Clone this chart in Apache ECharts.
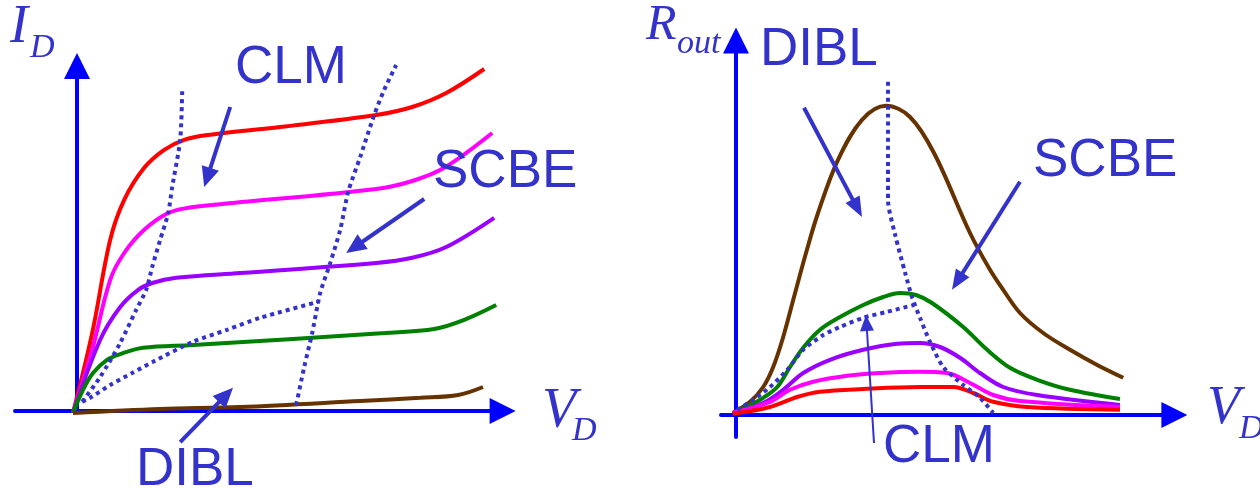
<!DOCTYPE html>
<html>
<head>
<meta charset="utf-8">
<script src="https://cdn.jsdelivr.net/npm/echarts/dist/echarts.min.js"></script>
<style>
  html, body { margin: 0; padding: 0; background: #fff; }
  #chart { width: 1260px; height: 496px; }
</style>
</head>
<body>
<div id="chart"></div>
<script>
// ---- left panel: I_D vs V_D, one curve per gate voltage ([V_D, I_D], arbitrary units) ----
const idRed     = [[-0.1,-0.05],[0.38,1.95],[0.83,4.28],[1.18,5.28],[1.68,6.08],[2.18,6.53],[2.68,6.78],[3.28,6.9],[5.08,7.1],[7.48,7.4],[8.38,7.6],[9.23,7.95],[10.18,8.55]];
const idMagenta = [[-0.1,-0.05],[0.38,1.53],[0.83,3.28],[1.18,3.95],[1.68,4.53],[2.28,4.95],[2.78,5.08],[3.68,5.18],[7.48,5.55],[8.38,5.75],[9.18,6.08],[10.38,6.95]];
const idPurple  = [[-0.1,-0.05],[0.58,1.78],[1.08,2.6],[1.53,3.03],[1.88,3.2],[2.48,3.33],[4.08,3.45],[7.48,3.7],[8.38,3.83],[9.23,4.1],[10.43,4.83]];
const idGreen   = [[-0.1,-0.05],[0.15,0.53],[0.4,0.95],[0.75,1.28],[1.1,1.43],[1.65,1.58],[2.9,1.65],[7.7,1.95],[8.93,2.05],[9.68,2.28],[10.48,2.65]];
const idBrown   = [[-0.1,-0.05],[2.08,0.05],[4.08,0.1],[7.08,0.25],[8.58,0.33],[9.53,0.4],[10.15,0.6]];
// region boundaries (dotted)
const idClmEdge  = [[0.13,0.23],[0.58,0.85],[1.08,1.7],[1.48,2.53],[1.73,3.03],[1.88,3.6],[2.08,4.28],[2.28,4.95],[2.38,5.6],[2.58,6.78],[2.63,8.0]];
const idDiblEdge = [[0.13,0.23],[0.33,0.33],[0.83,0.65],[1.38,0.95],[1.9,1.23],[2.9,1.73],[3.75,2.03],[4.58,2.33],[6.03,2.73]];
const idScbeEdge = [[5.48,0.15],[5.68,1.1],[5.88,1.95],[6.08,2.95],[6.33,3.7],[6.58,4.53],[6.78,5.48],[7.08,6.35],[7.43,7.4],[7.68,8.03],[7.98,8.65]];
// annotation arrows [tailX, tailY, tipX, tipY]
const idArrows = [[3.83,7.6,3.18,5.6],[8.68,5.3,6.73,3.95],[2.58,-0.78,3.9,0.58]];

// ---- right panel: R_out vs V_D ----
const roBrown   = [[-0.08,0.05],[0.35,0.33],[0.68,0.7],[0.93,1.2],[1.18,1.95],[1.45,2.95],[1.75,4.05],[2.05,5.05],[2.55,6.38],[3.15,7.38],[3.75,7.73],[4.35,7.45],[4.95,6.55],[5.85,4.55],[6.35,3.63],[6.68,3.13],[7.1,2.55],[7.68,2.05],[8.35,1.63],[9.03,1.25],[9.68,0.93]];
const roGreen   = [[-0.08,0.05],[0.35,0.25],[0.68,0.43],[1.03,0.7],[1.35,1.2],[1.68,1.68],[2.1,2.13],[2.6,2.45],[3.18,2.75],[3.68,2.95],[4.1,3.05],[4.5,3.0],[4.9,2.8],[5.68,2.2],[6.28,1.63],[6.85,1.18],[7.53,0.88],[8.35,0.63],[9.6,0.4]];
const roPurple  = [[-0.08,0.05],[0.68,0.3],[1.18,0.63],[1.68,1.05],[2.35,1.38],[3.18,1.63],[4.03,1.78],[4.6,1.8],[5.1,1.7],[5.6,1.43],[6.1,1.05],[6.68,0.7],[7.53,0.5],[9.6,0.25]];
const roMagenta = [[-0.08,0.05],[0.85,0.33],[1.35,0.63],[1.93,0.83],[2.78,0.98],[3.6,1.05],[4.6,1.08],[5.28,1.05],[5.85,0.8],[6.43,0.5],[7.1,0.35],[9.6,0.2]];
const roRed     = [[-0.08,0.03],[0.85,0.2],[1.53,0.45],[2.1,0.58],[3.18,0.65],[4.6,0.7],[5.43,0.7],[5.93,0.55],[6.43,0.33],[7.28,0.2],[9.6,0.13]];
const roClmEdge  = [[0.03,0.13],[0.43,0.38],[0.85,0.7],[1.28,1.13],[1.68,1.63],[2.18,2.0],[2.6,2.2],[3.18,2.43],[3.78,2.58],[4.45,2.75]];
const roDiblEdge = [[3.8,8.33],[3.8,5.38],[3.98,4.5],[4.23,3.55],[4.4,2.95],[4.6,2.43],[4.85,1.83],[5.18,1.2],[5.68,0.75],[6.1,0.43],[6.43,0.05]];
const roArrows     = [[1.7,7.68,3.15,4.95],[7.1,5.83,5.4,3.13]];
const roThinArrows = [[3.45,-0.7,3.25,2.5]];

// ---- layout ----
const UNIT = 40; // px per axis unit, same in both panels
const panels = [
  { ox: 77,  oy: 411, x: [-1.55, 10.64], y: [0, 8.625] },
  { ox: 736, oy: 415, x: [-0.375, 10.96], y: [-0.55, 9.36] }
];
const BLUE = '#3333cc';

const chart = echarts.init(document.getElementById('chart'));

function axis(range) {
  return {
    type: 'value', min: range[0], max: range[1],
    axisLine: {
      onZero: true,
      symbol: ['none', 'triangle'],
      symbolSize: [26, 26],
      lineStyle: { color: '#0000ff', width: 4 }
    },
    axisTick: { show: false },
    axisLabel: { show: false },
    splitLine: { show: false }
  };
}

function curve(data, color, p) {
  return {
    type: 'line', xAxisIndex: p, yAxisIndex: p, data,
    smooth: 0.35, showSymbol: false, clip: false, silent: true, z: 3,
    lineStyle: { color, width: 4 }
  };
}

function dotted(data, p) {
  return {
    type: 'line', xAxisIndex: p, yAxisIndex: p, data,
    smooth: 0.25, showSymbol: false, clip: false, silent: true, z: 4,
    lineStyle: { color: BLUE, width: 4, type: [4, 4], cap: 'butt' }
  };
}

function arrows(data, p, shaft, headLen, headHalf) {
  return {
    type: 'custom', xAxisIndex: p, yAxisIndex: p, data, clip: false, silent: true, z: 5,
    renderItem(params, api) {
      const a = api.coord([api.value(0), api.value(1)]);
      const b = api.coord([api.value(2), api.value(3)]);
      const dx = b[0] - a[0], dy = b[1] - a[1];
      const len = Math.sqrt(dx * dx + dy * dy);
      const ux = dx / len, uy = dy / len;
      const bx = b[0] - ux * headLen, by = b[1] - uy * headLen;
      return {
        type: 'group',
        children: [
          { type: 'line', shape: { x1: a[0], y1: a[1], x2: bx + ux * 2, y2: by + uy * 2 },
            style: { stroke: BLUE, lineWidth: shaft } },
          { type: 'polygon',
            shape: { points: [[b[0], b[1]], [bx - uy * headHalf, by + ux * headHalf], [bx + uy * headHalf, by - ux * headHalf]] },
            style: { fill: BLUE } }
        ]
      };
    }
  };
}

function label(text, x, y, font) {
  return {
    type: 'text', x, y, silent: true, z: 10,
    style: { text, font, fill: BLUE, align: 'left', verticalAlign: 'middle', textAlign: 'left', textVerticalAlign: 'middle' }
  };
}

const SANS = '53px "Liberation Sans", Arial, sans-serif';
const serif = (size) => 'italic ' + size + 'px "Liberation Serif", "Times New Roman", serif';

chart.setOption({
  animation: false,
  backgroundColor: '#ffffff',
  grid: panels.map(p => ({
    left: p.ox + p.x[0] * UNIT,
    width: (p.x[1] - p.x[0]) * UNIT,
    top: p.oy - p.y[1] * UNIT,
    height: (p.y[1] - p.y[0]) * UNIT
  })),
  xAxis: panels.map((p, i) => Object.assign(axis(p.x), { gridIndex: i })),
  yAxis: panels.map((p, i) => Object.assign(axis(p.y), { gridIndex: i })),
  series: [
    curve(idRed, '#ff0000', 0),
    curve(idMagenta, '#ff00ff', 0),
    curve(idPurple, '#9900ff', 0),
    curve(idGreen, '#008000', 0),
    curve(idBrown, '#663300', 0),
    dotted(idClmEdge, 0),
    dotted(idDiblEdge, 0),
    dotted(idScbeEdge, 0),
    arrows(idArrows, 0, 4, 20, 9),

    curve(roBrown, '#663300', 1),
    curve(roGreen, '#008000', 1),
    curve(roPurple, '#9900ff', 1),
    curve(roMagenta, '#ff00ff', 1),
    curve(roRed, '#ff0000', 1),
    dotted(roClmEdge, 1),
    dotted(roDiblEdge, 1),
    arrows(roArrows, 1, 4, 20, 8),
    arrows(roThinArrows, 1, 2, 16, 7)
  ],
  graphic: [
    label('CLM', 235, 68, SANS),
    label('SCBE', 433, 172, SANS),
    label('DIBL', 136, 470, SANS),
    label('DIBL', 760, 50, SANS),
    label('SCBE', 1033, 161, SANS),
    label('CLM', 883, 447, SANS),
    label('I', 10, 28, serif(54)),
    label('D', 30, 48, serif(34)),
    label('V', 542, 412, serif(56)),
    label('D', 572, 431, serif(34)),
    label('R', 646, 26, serif(50)),
    label('out', 677, 44, serif(34)),
    label('V', 1207, 409, serif(54)),
    label('D', 1239, 429, serif(34))
  ]
});
</script>
</body>
</html>
